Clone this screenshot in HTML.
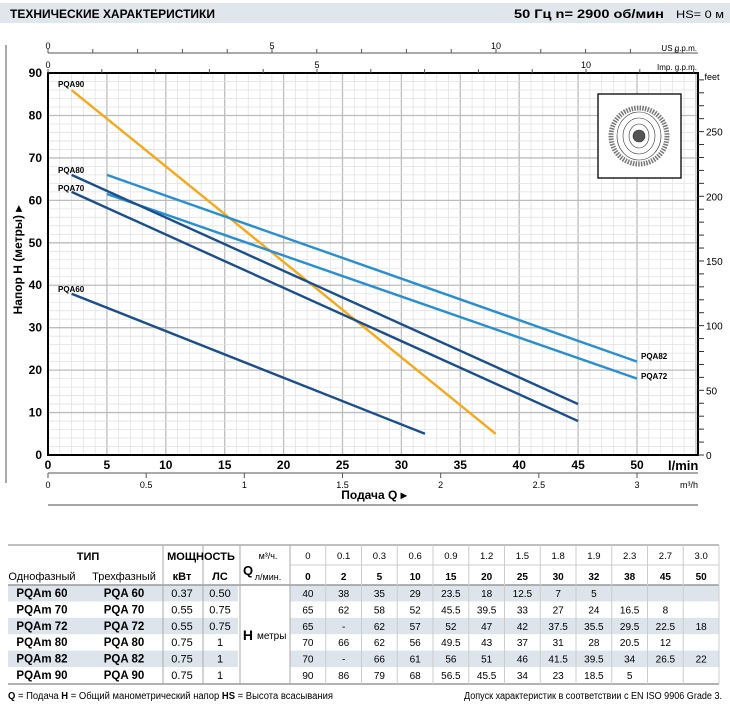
<!DOCTYPE html>
<html><head><meta charset="utf-8">
<style>
html,body{margin:0;padding:0;background:#fff;width:730px;height:709px;overflow:hidden}
svg{display:block;font-family:"Liberation Sans",sans-serif}
</style></head>
<body>
<svg id="s" width="730" height="709" viewBox="0 0 730 709" xmlns="http://www.w3.org/2000/svg">
<rect x="0" y="3" width="730" height="20" fill="#e1e6ec"/>
<text x="10" y="18" font-size="12" font-weight="bold" textLength="205" lengthAdjust="spacingAndGlyphs">ТЕХНИЧЕСКИЕ ХАРАКТЕРИСТИКИ</text>
<text x="514" y="18" font-size="12" font-weight="bold" textLength="150" lengthAdjust="spacingAndGlyphs">50 Гц   n= 2900  об/мин</text>
<text x="676" y="18" font-size="11" textLength="48" lengthAdjust="spacingAndGlyphs">HS= 0 м</text>
<line x1="6" y1="45" x2="6" y2="483" stroke="#555" stroke-width="1"/>
<g id="grid"></g>
<g id="curves"></g>
<rect x="48" y="73" width="650" height="382" fill="none" stroke="#000" stroke-width="2"/>
<rect x="598" y="94" width="83" height="84" fill="#fff" stroke="#000" stroke-width="1.3"/>
<g transform="translate(639,136)" fill="none" stroke="#333" stroke-width="0.6">
<circle r="28" stroke-dasharray="1.5 1.2" stroke-width="5" stroke="#777"/>
<ellipse rx="22" ry="24"/><ellipse rx="16" ry="18"/><ellipse rx="10" ry="12"/>
<circle r="6" fill="#555"/>
</g>
<g id="axes" font-size="9" fill="#000"></g>
<g font-size="8" font-weight="bold">
<text x="58" y="87">PQA90</text>
<text x="58" y="173">PQA80</text>
<text x="58" y="191">PQA70</text>
<text x="58" y="292">PQA60</text>
<text x="641" y="359">PQA82</text>
<text x="641" y="379">PQA72</text>
</g>
<text transform="translate(22,260) rotate(-90)" text-anchor="middle" font-size="12" font-weight="bold">Напор  H  (метры) ▸</text>
<text x="668" y="470" font-size="13" font-weight="bold">l/min</text>
<text x="680" y="488" font-size="9">m³/h</text>
<text x="374" y="499" text-anchor="middle" font-size="12" font-weight="bold">Подача Q  ▸</text>
<line x1="48" y1="505" x2="698" y2="505" stroke="#888" stroke-width="1.5"/>
<text x="712" y="80" font-size="9" text-anchor="middle">feet</text>
<text x="697" y="51" font-size="8" text-anchor="end">US g.p.m.</text>
<text x="697" y="70" font-size="8" text-anchor="end">Imp. g.p.m.</text>
<g id="table"></g>
<text x="8" y="699" font-size="10" textLength="325" lengthAdjust="spacingAndGlyphs"><tspan font-weight="bold">Q</tspan> = Подача  <tspan font-weight="bold">H</tspan> = Общий манометрический напор  <tspan font-weight="bold">HS</tspan> = Высота всасывания</text>
<text x="722" y="699" font-size="10" text-anchor="end" textLength="258" lengthAdjust="spacingAndGlyphs">Допуск характеристик в соответствии с EN ISO 9906 Grade 3.</text>
</svg>
<script>
var NS="http://www.w3.org/2000/svg";
function el(p,t,a,txt){var e=document.createElementNS(NS,t);for(var k in a)e.setAttribute(k,a[k]);if(txt!==undefined)e.textContent=txt;document.getElementById(p).appendChild(e);return e;}
function X(q){return 48+q*11.78;} function Y(h){return 455-h*4.244;}
for(var q=1;q<55.2;q++){var m=q%5==0;el("grid","line",{x1:X(q),y1:73,x2:X(q),y2:455,stroke:m?"#bdbdbd":"#e2e2e2","stroke-width":m?1.3:0.8});}
for(var h=2;h<90;h+=2){var m=h%10==0;el("grid","line",{x1:48,y1:Y(h),x2:698,y2:Y(h),stroke:m?"#bdbdbd":"#e2e2e2","stroke-width":m?1.3:0.8});}
var C=[
["#f6a91b",[2,86],[38,5]],
["#2a8fd1",[5,66],[50,22]],
["#2a8fd1",[5,61.5],[50,18]],
["#1b4f8c",[2,66],[45,12]],
["#1b4f8c",[2,62],[45,8]],
["#1b4f8c",[2,38],[32,5]]];
C.forEach(function(c){el("curves","line",{x1:X(c[1][0]),y1:Y(c[1][1]),x2:X(c[2][0]),y2:Y(c[2][1]),stroke:c[0],"stroke-width":2.4});});
for(var h=0;h<=90;h+=10)el("axes","text",{x:42,y:Y(h)+4,"text-anchor":"end","font-size":12,"font-weight":"bold"},h);
for(var q=0;q<=50;q+=5)el("axes","text",{x:X(q),y:469,"text-anchor":"middle","font-size":12,"font-weight":"bold"},q);
el("axes","line",{x1:48,y1:473,x2:698,y2:473,stroke:"#555"});
for(var v=0;v<=3;v+=0.5){var x=X(v*1000/60);el("axes","line",{x1:x,y1:473,x2:x,y2:478,stroke:"#555"});el("axes","text",{x:x,y:488,"text-anchor":"middle"},v);}
el("axes","line",{x1:48,y1:53,x2:698,y2:53,stroke:"#555"});
for(var g=0;g<=14;g++){var x=48+g*44.8;if(x>698)break;el("axes","line",{x1:x,y1:53,x2:x,y2:49,stroke:"#555"});if(g%5==0)el("axes","text",{x:x,y:49,"text-anchor":"middle","font-size":9},g);}
for(var g=0;g<=12;g++){var x=48+g*53.8;if(x>698)break;el("axes","line",{x1:x,y1:73,x2:x,y2:69,stroke:"#555"});if(g%5==0)el("axes","text",{x:x,y:68,"text-anchor":"middle","font-size":9},g);}
for(var f=0;f<=290;f+=10){var y=455-f*1.2936;if(y<73)break;el("axes","line",{x1:698,y1:y,x2:704,y2:y,stroke:"#333"});if(f%50==0)el("axes","text",{x:706,y:y+4,"font-size":10},f);}
var T="table";
var cols=[];for(var i=0;i<=12;i++)cols.push(290+i*35.75);
var rt=585,rh=16.4;
for(var i=0;i<6;i++){if(i%2==0){el(T,"rect",{x:8,y:rt+i*rh,width:230,height:rh,fill:"#dde4ec"});el(T,"rect",{x:290,y:rt+i*rh,width:429,height:rh,fill:"#dde4ec"});}}
el(T,"line",{x1:8,y1:545,x2:719,y2:545,stroke:"#aaa","stroke-width":1.5});
el(T,"line",{x1:8,y1:585,x2:719,y2:585,stroke:"#999","stroke-width":1.5});
el(T,"line",{x1:8,y1:684,x2:719,y2:684,stroke:"#999","stroke-width":1.5});
el(T,"line",{x1:290,y1:565,x2:719,y2:565,stroke:"#ccc"});
[163,203,240,290].forEach(function(x){el(T,"line",{x1:x,y1:545,x2:x,y2:684,stroke:"#aaa"});});
cols.slice(1,12).forEach(function(x){el(T,"line",{x1:x,y1:545,x2:x,y2:684,stroke:"#ccc"});});
el(T,"line",{x1:719,y1:545,x2:719,y2:684,stroke:"#ccc"});
function tx(x,y,s,o){var a={x:x,y:y,"text-anchor":"middle","font-size":11};for(var k in o)a[k]=o[k];el(T,"text",a,s);}
tx(88,560,"ТИП",{"font-weight":"bold"});
tx(201,560,"МОЩНОСТЬ",{"font-weight":"bold"});
tx(42,580,"Однофазный",{"font-size":11});tx(124,580,"Трехфазный");
tx(182,580,"кВт",{"font-weight":"bold"});tx(220,580,"ЛС",{"font-weight":"bold"});
tx(248,575,"Q",{"font-weight":"bold","font-size":13});
tx(268,559,"м³/ч.",{"font-size":9});tx(268,580,"л/мин.",{"font-size":9});
var m3=["0","0.1","0.3","0.6","0.9","1.2","1.5","1.8","1.9","2.3","2.7","3.0"],lm=["0","2","5","10","15","20","25","30","32","38","45","50"];
for(var i=0;i<12;i++){var cx=cols[i]+17.9;tx(cx,559,m3[i],{"font-size":9.5});tx(cx,580,lm[i],{"font-size":10,"font-weight":"bold"});}
var rows=[["PQAm 60","PQA 60","0.37","0.50",["40","38","35","29","23.5","18","12.5","7","5","","",""]],
["PQAm 70","PQA 70","0.55","0.75",["65","62","58","52","45.5","39.5","33","27","24","16.5","8",""]],
["PQAm 72","PQA 72","0.55","0.75",["65","-","62","57","52","47","42","37.5","35.5","29.5","22.5","18"]],
["PQAm 80","PQA 80","0.75","1",["70","66","62","56","49.5","43","37","31","28","20.5","12",""]],
["PQAm 82","PQA 82","0.75","1",["70","-","66","61","56","51","46","41.5","39.5","34","26.5","22"]],
["PQAm 90","PQA 90","0.75","1",["90","86","79","68","56.5","45.5","34","23","18.5","5","",""]]];
rows.forEach(function(r,i){var y=rt+i*rh+12;tx(42,y,r[0],{"font-weight":"bold","font-size":11.5});tx(124,y,r[1],{"font-weight":"bold","font-size":11.5});tx(182,y,r[2]);tx(220,y,r[3]);
 r[4].forEach(function(v,j){if(v)tx(cols[j]+17.9,y,v,{"font-size":10});});});
tx(253,640,"H",{"font-weight":"bold","font-size":14,"text-anchor":"end"});
el(T,"text",{x:257,y:639,"font-size":10},"метры");
</script>
</body></html>
